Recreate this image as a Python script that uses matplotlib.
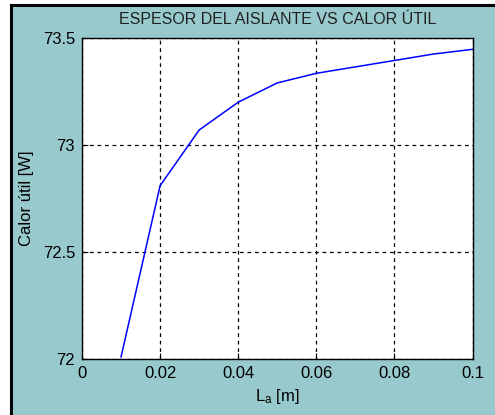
import matplotlib
matplotlib.use("Agg")
import matplotlib.pyplot as plt
from matplotlib.lines import Line2D
from matplotlib.patches import Rectangle

plt.rcParams['font.family'] = ['Liberation Sans', 'DejaVu Sans']
plt.rcParams['mathtext.fontset'] = 'custom'
plt.rcParams['mathtext.rm'] = 'Liberation Sans'
plt.rcParams['mathtext.it'] = 'Liberation Sans'

# insulation thickness [m] and useful heat [W]
espesor = [0.01, 0.02, 0.03, 0.04, 0.05, 0.06, 0.07, 0.08, 0.09, 0.10]
calor_util = [72.01, 72.81, 73.07, 73.20, 73.29, 73.335, 73.365, 73.395, 73.425, 73.447]

x_ticks = [0, 0.02, 0.04, 0.06, 0.08, 0.1]
x_labels = ['0', '0.02', '0.04', '0.06', '0.08', '0.1']
y_ticks = [72, 72.5, 73, 73.5]
y_labels = ['72', '72.5', '73', '73.5']

bg = '#98CACD'
fig = plt.figure(figsize=(4.95, 4.15), dpi=100, facecolor=bg)
ax = fig.add_axes([82 / 495, 1 - 359 / 415, (472.5 - 82) / 495, (359 - 38) / 415])
ax.set_facecolor('white')

ax.plot(espesor, calor_util, color='#0000FF', linewidth=1.1)

ax.set_xlim(0, 0.1)
ax.set_ylim(72, 73.5)
ax.set_xticks(x_ticks)
ax.set_xticklabels(x_labels)
ax.set_yticks(y_ticks)
ax.set_yticklabels(y_labels)
ax.tick_params(direction='in', length=4, width=0.8, labelsize=12, pad=5, colors='black')
ax.grid(True, color='black', linestyle=(0, (3, 3)), linewidth=0.9)
for s in ax.spines.values():
    s.set_linewidth(1.0)
    s.set_color('black')

ax.set_title('ESPESOR DEL AISLANTE VS CALOR ÚTIL', fontsize=11.5, color='#202020', pad=10)
ax.set_xlabel(r'$\mathregular{L_a}$ [m]', fontsize=12, labelpad=4)
ax.set_ylabel('Calor útil [W]', fontsize=12, labelpad=6)

# window frame edges
fig.add_artist(Line2D([11 / 495, 1], [1 - 5 / 415, 1 - 5 / 415], color='black', linewidth=2.2, transform=fig.transFigure))
fig.add_artist(Line2D([11 / 495, 11 / 495], [0, 1 - 5 / 415], color='black', linewidth=2.2, transform=fig.transFigure))
fig.add_artist(Rectangle((0, 0), 10 / 495, 1, color='white', transform=fig.transFigure, zorder=-1))
fig.add_artist(Rectangle((0, 1 - 4 / 415), 1, 4 / 415, color='white', transform=fig.transFigure, zorder=-1))

fig.savefig('out.png', dpi=100, facecolor=bg)
